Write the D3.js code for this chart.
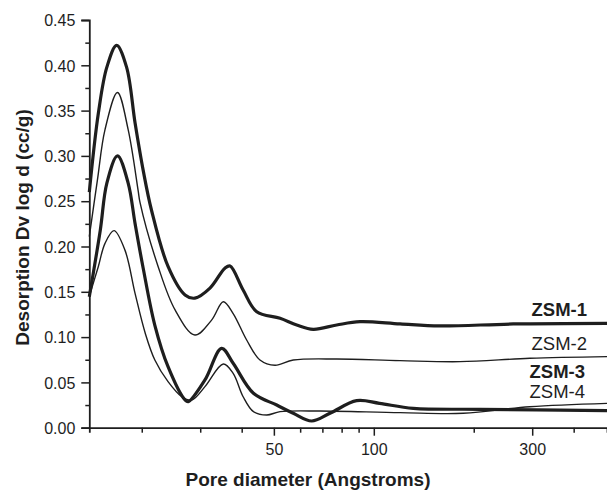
<!DOCTYPE html>
<html>
<head>
<meta charset="utf-8">
<script src="https://cdn.jsdelivr.net/npm/d3@7"></script>
<style>
  body { margin: 0; background: #fff; }
  svg { display: block; font-family: "Liberation Sans", Arial, sans-serif; }
</style>
</head>
<body>
<svg id="chart" width="607" height="492"></svg>
<script>
// pore diameter (Angstroms) vs desorption Dv log d (cc/g)
var zsm1 = [[13.9, 0.260], [14.8, 0.347], [15.7, 0.398], [16.8, 0.422], [18.0, 0.398], [19.1, 0.336],
  [20.2, 0.284], [21.4, 0.240], [24.0, 0.178], [27.0, 0.1465], [28.9, 0.143], [32.1, 0.154],
  [35.6, 0.176], [36.9, 0.1785], [40.4, 0.152], [44.4, 0.128], [52.2, 0.1207], [58.6, 0.1134],
  [65.7, 0.1086], [77.3, 0.1134], [90.9, 0.117], [120, 0.1145], [158, 0.1123], [263, 0.1145], [504, 0.1152]];

var zsm2 = [[13.9, 0.211], [14.7, 0.273], [15.5, 0.329], [16.9, 0.370], [18.2, 0.329], [19.5, 0.262],
  [19.75, 0.249], [22.4, 0.178], [25.2, 0.130], [28.9, 0.1023], [32.5, 0.119], [35.2, 0.139],
  [37.7, 0.126], [41.4, 0.0968], [45.4, 0.0747], [50.4, 0.0689], [57.2, 0.0747], [77.3, 0.0758],
  [120, 0.074], [182, 0.0729], [295, 0.0766], [504, 0.0784]];

var zsm3 = [[13.9, 0.1446], [15.0, 0.218], [15.7, 0.270], [16.9, 0.300], [18.2, 0.270], [19.1, 0.225],
  [20.2, 0.176], [21.9, 0.113], [24.0, 0.0673], [27.0, 0.0306], [27.6, 0.0287], [31.0, 0.0527],
  [34.8, 0.0876], [37.7, 0.0711], [43.4, 0.038], [51.0, 0.025], [57.2, 0.0159], [65.0, 0.0074],
  [73.8, 0.0159], [88.8, 0.0298], [104, 0.0269], [131.5, 0.0214], [209, 0.0203], [504, 0.0188]];

var zsm4 = [[13.9, 0.145], [14.8, 0.178], [15.5, 0.2035], [16.5, 0.2175], [17.8, 0.196], [19.1, 0.148],
  [20.5, 0.104], [21.9, 0.0747], [24.0, 0.0508], [26.4, 0.0342], [28.3, 0.0306], [31.0, 0.0453],
  [35.2, 0.0703], [37.7, 0.060], [40.4, 0.0342], [43.4, 0.0177], [47.6, 0.014], [52.2, 0.0177],
  [68.8, 0.0184], [120, 0.0166], [186, 0.0159], [295, 0.0232], [504, 0.0269]];

var seriesNames = ['ZSM-1', 'ZSM-2', 'ZSM-3', 'ZSM-4'];
var xTicks = [20, 30, 40, 50, 60, 70, 80, 90, 100, 200, 300, 400];
var xTickLabels = [50, 100, 300];
var yTicks = [0, 0.05, 0.10, 0.15, 0.20, 0.25, 0.30, 0.35, 0.40, 0.45];
var yMinorTicks = [0.025, 0.075, 0.125, 0.175, 0.225, 0.275, 0.325, 0.375, 0.425];

var ink = '#1e1e1e';
var svg = d3.select('#chart');

var x = d3.scaleLog().domain([13.9, 504]).range([89.3, 607]);
var y = d3.scaleLinear().domain([0, 0.45]).range([427.7, 20]);

// y axis
var yAxis = svg.append('g').attr('transform', 'translate(89.3,0)')
  .call(d3.axisLeft(y).tickValues(yTicks).tickSize(8).tickFormat(d3.format('.2f')));
svg.append('g').attr('transform', 'translate(89.3,0)')
  .call(d3.axisLeft(y).tickValues(yMinorTicks).tickSize(4).tickFormat(''))
  .select('.domain').remove();

// x axis
var xAxis = svg.append('g').attr('transform', 'translate(0,427.7)')
  .call(d3.axisBottom(x).tickValues(xTicks).tickSize(5)
    .tickFormat(function(d) { return xTickLabels.indexOf(d) >= 0 ? d : ''; }));
xAxis.selectAll('.tick line').attr('y2', function(d) { return xTickLabels.indexOf(d) >= 0 ? 8 : 5; });

svg.selectAll('.domain').attr('stroke', ink).attr('stroke-width', 1.8);
svg.selectAll('.tick line').attr('stroke', ink).attr('stroke-width', 1.5);
svg.selectAll('.tick text').attr('fill', ink).style('font-size', '16px')
  .style('font-family', '"Liberation Sans", Arial, sans-serif');
yAxis.selectAll('.tick text').attr('x', -14).attr('dy', '0.36em');
xAxis.selectAll('.tick text').attr('y', 16).attr('dy', '0.71em');

// curves
var line = d3.line()
  .x(function(d) { return x(d[0]); })
  .y(function(d) { return y(d[1]); })
  .curve(d3.curveCatmullRom.alpha(0.5));

var series = [
  {name: seriesNames[0], data: zsm1, width: 3.2, bold: true, lx: 587, ly: 315.5},
  {name: seriesNames[1], data: zsm2, width: 1.4, bold: false, lx: 587, ly: 350},
  {name: seriesNames[2], data: zsm3, width: 3.2, bold: true, lx: 585, ly: 378},
  {name: seriesNames[3], data: zsm4, width: 1.4, bold: false, lx: 585, ly: 398}
];

svg.append('g').selectAll('path').data(series).enter().append('path')
  .attr('fill', 'none')
  .attr('stroke', ink)
  .attr('stroke-width', function(d) { return d.width; })
  .attr('stroke-linejoin', 'round')
  .attr('d', function(d) { return line(d.data); });

// series labels
svg.append('g').selectAll('text').data(series).enter().append('text')
  .attr('x', function(d) { return d.lx; })
  .attr('y', function(d) { return d.ly; })
  .attr('text-anchor', 'end')
  .attr('fill', ink)
  .style('font-size', '18.5px')
  .style('font-weight', function(d) { return d.bold ? 'bold' : 'normal'; })
  .text(function(d) { return d.name; });

// axis titles
svg.append('text')
  .attr('transform', 'translate(28.5,227.5) rotate(-90)')
  .attr('text-anchor', 'middle')
  .attr('fill', ink)
  .style('font-size', '19px')
  .style('font-weight', 'bold')
  .text('Desorption Dv log d (cc/g)');

svg.append('text')
  .attr('x', 308)
  .attr('y', 486)
  .attr('text-anchor', 'middle')
  .attr('fill', ink)
  .style('font-size', '19px')
  .style('font-weight', 'bold')
  .text('Pore diameter (Angstroms)');
</script>
</body>
</html>
